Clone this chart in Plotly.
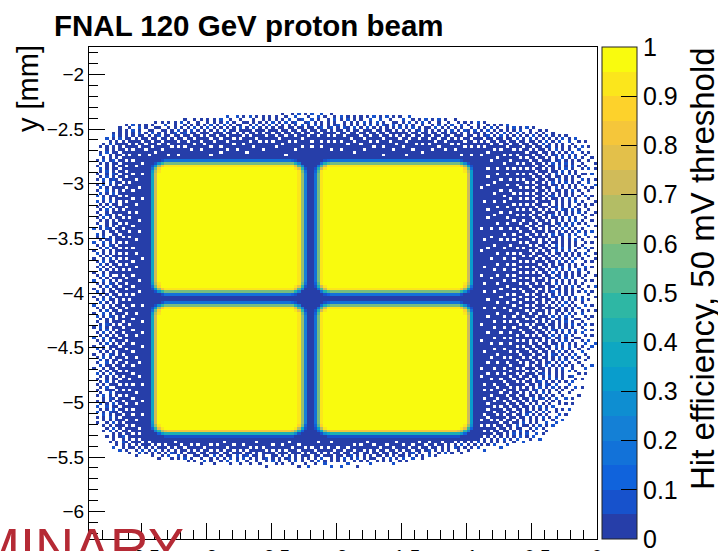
import numpy as np
import plotly.graph_objects as go

# ---- histogram binning (mm) ----
x_range = [-3.9, 0.0]
y_range = [-6.25, -1.75]
bin_size = 0.025

# ---- 2x2 pad layout (mm), rounded corners ----
pad_x_lo = [-3.40, -2.14]
pad_x_hi = [-2.257, -0.975]
pad_y_lo = [-5.28, -3.99]
pad_y_hi = [-4.11, -2.81]
pad_corner_r = 0.10

# efficiency vs. signed distance to the pad edge (negative = inside the pad)
edge_dist = [-0.05, -0.025, 0.0, 0.0125, 0.025, 0.04]
edge_eff = [0.99, 0.92, 0.55, 0.35, 0.12, 0.02]

# ---- beam halo: outer limits of the populated region ----
halo_row_y = [-5.619, -5.436, -5.162, -4.521, -3.607, -2.784, -2.509, -2.326]
halo_row_left = [-3.432, -3.739, -3.877, -3.892, -3.892, -3.877, -3.816, -3.432]
halo_row_right = [-1.052, -0.438, -0.192, 0.03, 0.05, 0.05, -0.092, -0.438]
halo_col_x = [-3.892, -3.662, -3.048, -2.280, -1.512, -0.898, -0.438, 0.0]
halo_col_top = [-2.692, -2.436, -2.372, -2.326, -2.354, -2.399, -2.463, -2.601]
halo_col_bottom = [-5.345, -5.482, -5.582, -5.601, -5.582, -5.454, -5.345, -4.979]
# width of the thinning zone on each side: left, right, top, bottom
halo_fade = [0.41, 0.95, 0.38, 0.25]
halo_peak_density = 0.93
dense_margin = 0.07          # fully populated band around the pad block
halo_eff = [0.03, 0.08]      # typical efficiency of halo bins

# kBird palette stops (ROOT)
bird_stops = [
    (0.2082, 0.1664, 0.5293), (0.0592, 0.3599, 0.8684), (0.0780, 0.5041, 0.8385),
    (0.0232, 0.6419, 0.7914), (0.1802, 0.7178, 0.6425), (0.5301, 0.7492, 0.4662),
    (0.8186, 0.7328, 0.3499), (0.9956, 0.7862, 0.1968), (0.9764, 0.9832, 0.0539),
]
n_levels = 20
cbar_ticks = [0, 0.1, 0.2, 0.3, 0.4, 0.5, 0.6, 0.7, 0.8, 0.9, 1.0]
cbar_labels = ["0", "0.1", "0.2", "0.3", "0.4", "0.5", "0.6", "0.7", "0.8", "0.9", "1"]

# ---- build the efficiency map ----
nx = int(round((x_range[1] - x_range[0]) / bin_size))
ny = int(round((y_range[1] - y_range[0]) / bin_size))
xc = x_range[0] + bin_size * (np.arange(nx) + 0.5)
yc = y_range[0] + bin_size * (np.arange(ny) + 0.5)
X, Y = np.meshgrid(xc, yc)

d_min = np.full(X.shape, np.inf)
for x0, x1 in zip(pad_x_lo, pad_x_hi):
    for y0, y1 in zip(pad_y_lo, pad_y_hi):
        cx, cy = 0.5 * (x0 + x1), 0.5 * (y0 + y1)
        hx, hy = 0.5 * (x1 - x0), 0.5 * (y1 - y0)
        qx = np.abs(X - cx) - (hx - pad_corner_r)
        qy = np.abs(Y - cy) - (hy - pad_corner_r)
        d = (np.hypot(np.maximum(qx, 0), np.maximum(qy, 0))
             + np.minimum(np.maximum(qx, qy), 0) - pad_corner_r)
        d_min = np.minimum(d_min, d)
eff = np.interp(d_min, edge_dist, edge_eff)

left = np.interp(Y, halo_row_y, halo_row_left)
right = np.interp(Y, halo_row_y, halo_row_right)
top = np.interp(X, halo_col_x, halo_col_top)
bottom = np.interp(X, halo_col_x, halo_col_bottom)
frac = np.minimum.reduce([
    np.clip((X - left) / halo_fade[0], 0, 1),
    np.clip((right - X) / halo_fade[1], 0, 1),
    np.clip((top - Y) / halo_fade[2], 0, 1),
    np.clip((Y - bottom) / halo_fade[3], 0, 1),
])
density = halo_peak_density * np.sqrt(frac)

dense = ((X > min(pad_x_lo) - dense_margin) & (X < max(pad_x_hi) + dense_margin)
         & (Y > min(pad_y_lo) - dense_margin) & (Y < max(pad_y_hi) + dense_margin))

# Floyd-Steinberg halftoning turns the halo density into populated bins
occ = np.zeros(X.shape, dtype=bool)
work = density.copy()
for j in range(ny - 1, -1, -1):
    for i in range(nx):
        old = work[j, i]
        new = 1.0 if old >= 0.5 else 0.0
        occ[j, i] = new > 0
        err = old - new
        if i + 1 < nx:
            work[j, i + 1] += err * 7 / 16
        if j - 1 >= 0:
            if i - 1 >= 0:
                work[j - 1, i - 1] += err * 3 / 16
            work[j - 1, i] += err * 5 / 16
            if i + 1 < nx:
                work[j - 1, i + 1] += err * 1 / 16

halo = (~dense) & occ
jj, ii = np.meshgrid(np.arange(ny), np.arange(nx), indexing="ij")
lighter = (density < 0.6) & (((ii * 5 + jj * 3) % 7) < 2)
halo_val = np.where(lighter, halo_eff[1], halo_eff[0])

z = np.where(dense, eff, np.where(halo, halo_val, np.nan))


# discrete palette, one colour per contour level
def bird(f):
    pos = f * (len(bird_stops) - 1)
    k = min(int(pos), len(bird_stops) - 2)
    t = pos - k
    c = [bird_stops[k][m] + t * (bird_stops[k + 1][m] - bird_stops[k][m]) for m in range(3)]
    return "rgb(%d,%d,%d)" % tuple(int(round(255 * v)) for v in c)


colorscale = []
for i in range(n_levels):
    col = bird(min((i + 0.99) / n_levels, 1.0))
    colorscale.append([i / n_levels, col])
    colorscale.append([(i + 1) / n_levels, col])

# ---- figure ----
W, H = 718, 551
ML, MR, MT, MB = 89, 121, 47, 12
PW, PH = W - ML - MR, H - MT - MB


def px(xpix):
    return (xpix - ML) / PW


def py(ypix):
    return (H - MB - ypix) / PH


FONT = "Liberation Sans, Arial, Helvetica, sans-serif"

fig = go.Figure(go.Heatmap(
    x=xc, y=yc, z=z, zmin=0, zmax=1, colorscale=colorscale,
    zsmooth=False, hoverongaps=False,
    colorbar=dict(
        x=px(602), xanchor="left", xpad=0, y=0.5, yanchor="middle",
        len=1, lenmode="fraction", ypad=0, thickness=35, thicknessmode="pixels",
        outlinewidth=1, outlinecolor="#222",
        tickmode="array", tickvals=cbar_ticks, ticktext=cbar_labels,
        ticks="inside", ticklen=16, tickcolor="black",
        ticklabeloverflow="allow",
        tickfont=dict(size=25, family=FONT, color="black"),
    ),
))

axis_common = dict(
    showgrid=False, zeroline=False, showline=True, mirror=True,
    linecolor="black", linewidth=1, ticks="inside", ticklen=16,
    tickcolor="black", tick0=0, dtick=0.5,
    tickfont=dict(size=19, family=FONT, color="black"),
    minor=dict(ticks="inside", ticklen=9, dtick=0.1, tick0=0, tickcolor="black"),
)
fig.update_xaxes(range=x_range, **axis_common)
fig.update_yaxes(range=y_range, **axis_common)

fig.update_layout(
    width=W, height=H,
    margin=dict(l=ML, r=MR, t=MT, b=MB, autoexpand=False),
    plot_bgcolor="white", paper_bgcolor="white",
    font=dict(family=FONT, color="black"),
    showlegend=False,
    annotations=[
        dict(text="FNAL 120 GeV proton beam", xref="paper", yref="paper",
             x=px(52), y=py(25), xanchor="left", yanchor="middle", showarrow=False,
             font=dict(size=29.5, family=FONT, color="black", weight="bold")),
        dict(text="y [mm]", xref="paper", yref="paper", textangle=-90,
             x=px(27.5), y=py(43), xanchor="center", yanchor="top", showarrow=False,
             font=dict(size=29, family=FONT, color="black")),
        dict(text="Hit efficiency, 50 mV threshold", xref="paper", yref="paper",
             textangle=-90, x=px(702), y=py(269), xanchor="center", yanchor="middle",
             showarrow=False, font=dict(size=33, family=FONT, color="black")),
        dict(text="PRELIMINARY", xref="paper", yref="paper",
             x=px(186), y=py(515), xanchor="right", yanchor="top", showarrow=False,
             font=dict(size=54, family=FONT, color="#b52a35")),
    ],
)

fig.write_html("out.html")
